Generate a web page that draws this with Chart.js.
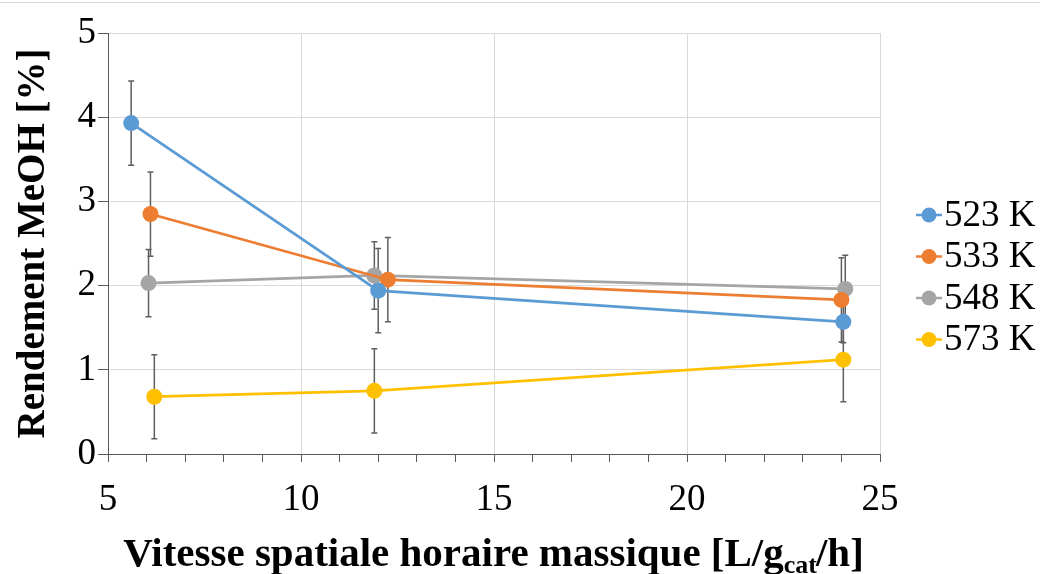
<!DOCTYPE html>
<html>
<head>
<meta charset="utf-8">
<script src="https://cdn.jsdelivr.net/npm/chart.js@4"></script>
<style>
  html, body { margin: 0; padding: 0; background: #fff; }
  #wrap { width: 1040px; height: 574px; }
</style>
</head>
<body>
<div id="wrap"><canvas id="rendementChart" width="1040" height="574"></canvas></div>
<script>
// séries (température) et valeurs
const temperatures = ['523 K', '533 K', '548 K', '573 K'];
const couleurs = ['#5B9BD5', '#ED7D31', '#A5A5A5', '#FFC000'];

const vitesse523 = [5.6, 12.0, 24.05];
const rendement523 = [3.93, 1.94, 1.57];
const erreur523 = [0.5, 0.5, 0.25];

const vitesse533 = [6.1, 12.25, 24.0];
const rendement533 = [2.85, 2.07, 1.83];
const erreur533 = [0.5, 0.5, 0.5];

const vitesse548 = [6.05, 11.9, 24.1];
const rendement548 = [2.03, 2.12, 1.96];
const erreur548 = [0.4, 0.4, 0.4];

const vitesse573 = [6.2, 11.9, 24.05];
const rendement573 = [0.68, 0.75, 1.12];
const erreur573 = [0.5, 0.5, 0.5];

const xTicks = [5, 10, 15, 20, 25];
const yTicks = [0, 1, 2, 3, 4, 5];

const police = "'Liberation Serif', 'DejaVu Serif', serif";

function points(xs, ys) {
  return xs.map((x, i) => ({ x: x, y: ys[i] }));
}

const series = [
  { x: vitesse523, y: rendement523, err: erreur523 },
  { x: vitesse533, y: rendement533, err: erreur533 },
  { x: vitesse548, y: rendement548, err: erreur548 },
  { x: vitesse573, y: rendement573, err: erreur573 }
];

// fond blanc + trait du cadre en haut
const fondPlugin = {
  id: 'fond',
  beforeDraw(chart) {
    const ctx = chart.ctx;
    ctx.save();
    ctx.fillStyle = '#fff';
    ctx.fillRect(0, 0, chart.width, chart.height);
    ctx.strokeStyle = '#d9d9d9';
    ctx.lineWidth = 1;
    ctx.beginPath();
    ctx.moveTo(0, 2.5);
    ctx.lineTo(chart.width, 2.5);
    ctx.stroke();
    ctx.restore();
  }
};

// barres d'erreur verticales
const erreurPlugin = {
  id: 'barresErreur',
  beforeDatasetsDraw(chart) {
    const ctx = chart.ctx;
    const xs = chart.scales.x, ys = chart.scales.y;
    ctx.save();
    ctx.strokeStyle = '#5f5f5f';
    ctx.lineWidth = 1.5;
    chart.data.datasets.forEach((ds) => {
      ds.data.forEach((p, i) => {
        const e = ds.erreurs[i];
        const px = xs.getPixelForValue(p.x);
        const top = ys.getPixelForValue(p.y + e);
        const bot = ys.getPixelForValue(p.y - e);
        ctx.beginPath();
        ctx.moveTo(px, top); ctx.lineTo(px, bot);
        ctx.moveTo(px - 3, top); ctx.lineTo(px + 3, top);
        ctx.moveTo(px - 3, bot); ctx.lineTo(px + 3, bot);
        ctx.stroke();
      });
    });
    ctx.restore();
  }
};

// légende à droite (trait + point)
const legendePlugin = {
  id: 'legendeDroite',
  afterDraw(chart) {
    const ctx = chart.ctx;
    chart.data.datasets.forEach((ds, i) => {
      const y = 215 + i * 41.5;
      ctx.save();
      ctx.strokeStyle = ds.borderColor;
      ctx.fillStyle = ds.borderColor;
      ctx.lineWidth = 2.5;
      ctx.beginPath();
      ctx.moveTo(916, y); ctx.lineTo(942, y);
      ctx.stroke();
      ctx.beginPath();
      ctx.arc(929, y, 7.5, 0, Math.PI * 2);
      ctx.fill();
      ctx.fillStyle = '#000';
      ctx.font = '37px ' + police;
      ctx.textBaseline = 'middle';
      ctx.fillText(ds.label, 944, y + 1);
      ctx.restore();
    });
  }
};

// titre de l'axe X avec indice "cat"
const titreXPlugin = {
  id: 'titreX',
  afterDraw(chart) {
    const ctx = chart.ctx;
    const area = chart.chartArea;
    const a = 'Vitesse spatiale horaire massique [L/g';
    const b = 'cat';
    const c = '/h]';
    const grand = 'bold 41px ' + police;
    const petit = 'bold 26px ' + police;
    ctx.save();
    ctx.fillStyle = '#000';
    ctx.textBaseline = 'alphabetic';
    ctx.font = grand;
    const wa = ctx.measureText(a).width;
    const wc = ctx.measureText(c).width;
    ctx.font = petit;
    const wb = ctx.measureText(b).width;
    let x = (area.left + area.right) / 2 - (wa + wb + wc) / 2;
    const base = 566;
    ctx.font = grand;
    ctx.fillText(a, x, base);
    x += wa;
    ctx.font = petit;
    ctx.fillText(b, x, base + 7);
    x += wb - 1;
    ctx.font = grand;
    ctx.fillText(c, x, base);
    ctx.restore();
  }
};

const ctx = document.getElementById('rendementChart').getContext('2d');
const rendementChart = new Chart(ctx, {
  type: 'line',
  data: {
    datasets: series.map((s, i) => ({
      label: temperatures[i],
      data: points(s.x, s.y),
      erreurs: s.err,
      borderColor: couleurs[i],
      backgroundColor: couleurs[i],
      borderWidth: 2.75,
      pointRadius: 8,
      pointHoverRadius: 8,
      pointBorderWidth: 0,
      tension: 0,
      fill: false
    }))
  },
  options: {
    responsive: false,
    animation: false,
    layout: { padding: { top: 33, right: 160, left: 0, bottom: 0 } },
    scales: {
      x: {
        type: 'linear',
        min: 5,
        max: 25,
        afterFit: (scale) => { scale.height = 120; },
        ticks: {
          stepSize: 1,
          autoSkip: false,
          maxRotation: 0,
          padding: 16,
          color: '#000',
          font: { family: police, size: 37 },
          callback: (v) => xTicks.includes(v) ? String(v) : ''
        },
        grid: {
          color: (c) => (c.tick && xTicks.includes(c.tick.value)) ? '#d9d9d9' : 'rgba(0,0,0,0)',
          tickColor: '#595959',
          tickLength: 8,
          lineWidth: 1
        },
        border: { color: '#595959', width: 1 },
        title: { display: false }
      },
      y: {
        min: 0,
        max: 5,
        afterFit: (scale) => { scale.width = 108; },
        afterBuildTicks: (scale) => { scale.ticks = yTicks.map((v) => ({ value: v })); },
        ticks: {
          padding: 2,
          color: '#000',
          font: { family: police, size: 37 }
        },
        grid: {
          color: '#d9d9d9',
          tickColor: '#595959',
          tickLength: 10,
          lineWidth: 1
        },
        border: { color: '#595959', width: 1 },
        title: {
          display: true,
          text: 'Rendement MeOH [%]',
          color: '#000',
          font: { family: police, size: 39, weight: 'bold', lineHeight: 1.2 },
          padding: { top: 11, bottom: 0 }
        }
      }
    },
    plugins: {
      legend: { display: false },
      tooltip: { enabled: false }
    }
  },
  plugins: [fondPlugin, erreurPlugin, legendePlugin, titreXPlugin]
});
</script>
</body>
</html>
